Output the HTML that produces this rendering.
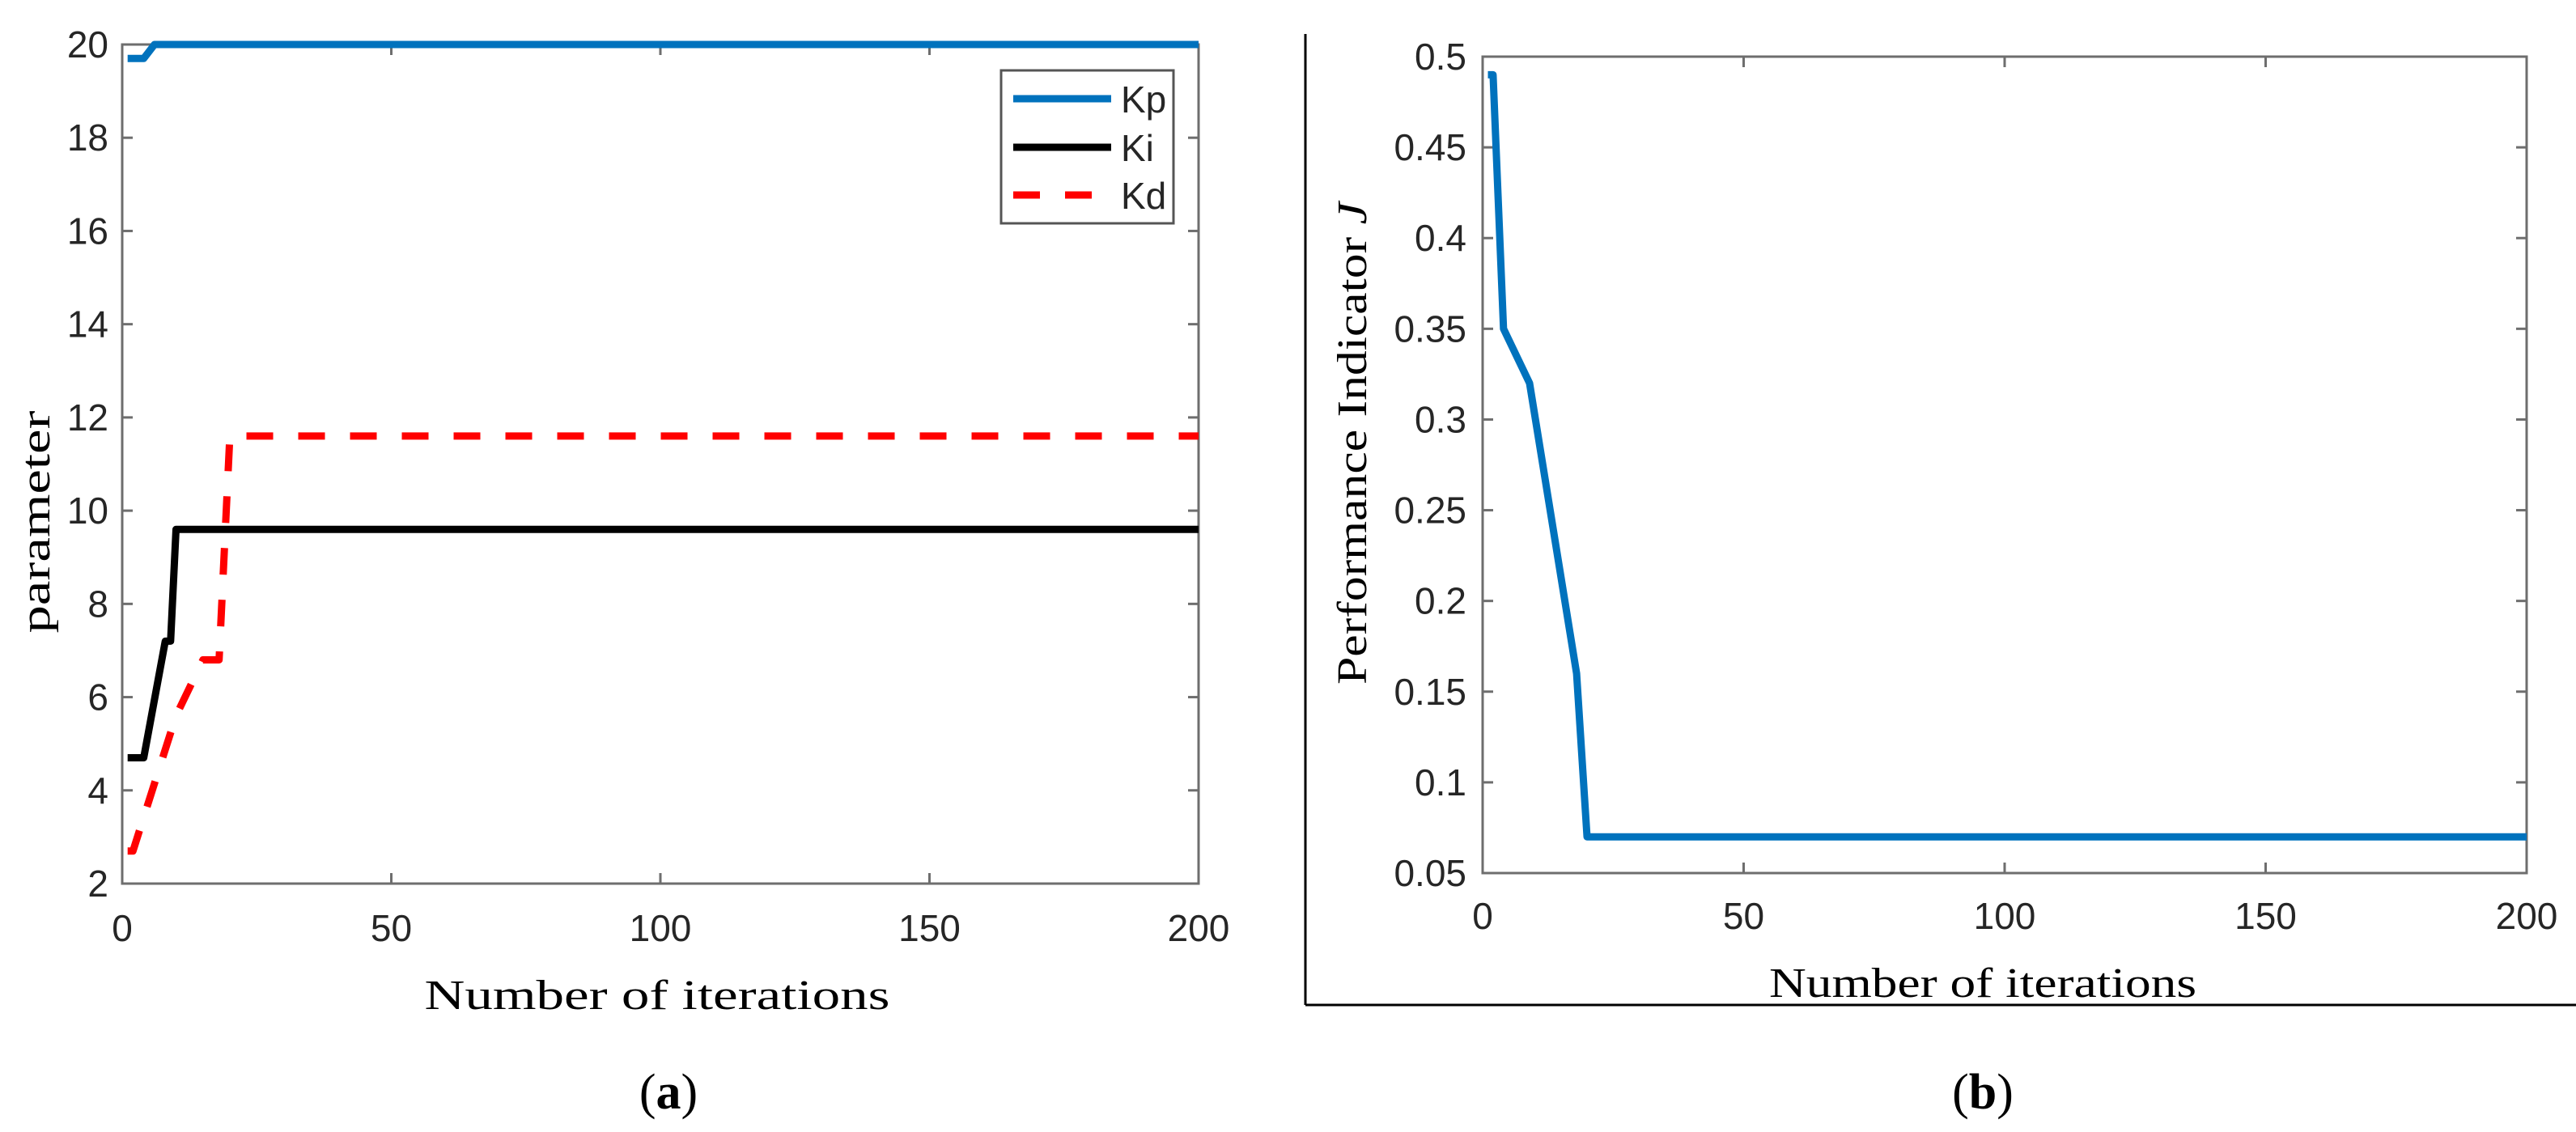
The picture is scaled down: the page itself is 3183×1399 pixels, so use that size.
<!DOCTYPE html>
<html><head><meta charset="utf-8"><style>
html,body{margin:0;padding:0;background:#fff;}
svg{display:block;}
.tick{font-family:"Liberation Sans",sans-serif;font-size:46px;fill:#262626;}
.lab{font-family:"Liberation Serif",serif;font-size:52px;fill:#000;}
</style></head><body>
<svg id="fig" width="3183" height="1399" viewBox="0 0 3183 1399" xmlns="http://www.w3.org/2000/svg">
<line x1="1613" y1="42" x2="1613" y2="1242" stroke="#000" stroke-width="3"/>
<line x1="1613" y1="1242" x2="3183" y2="1242" stroke="#000" stroke-width="3"/>
<g id="ga"></g>
<g id="gb"></g>
<text class="lab" x="812" y="1247" font-size="56" text-anchor="middle" textLength="575" lengthAdjust="spacingAndGlyphs">Number of iterations</text>
<text class="lab" font-size="64" transform="translate(61,645) rotate(-90)" text-anchor="middle" textLength="275" lengthAdjust="spacingAndGlyphs">parameter</text>
<text class="lab" x="2450" y="1232" text-anchor="middle" textLength="528" lengthAdjust="spacingAndGlyphs">Number of iterations</text>
<text class="lab" transform="translate(1688,548) rotate(-90)" text-anchor="middle" textLength="596" lengthAdjust="spacingAndGlyphs">Performance Indicator <tspan font-style="italic">J</tspan></text>
<text x="826" y="1370" text-anchor="middle" font-family="Liberation Serif,serif" font-size="62">(<tspan font-weight="bold">a</tspan>)</text>
<text x="2450" y="1370" text-anchor="middle" font-family="Liberation Serif,serif" font-size="62">(<tspan font-weight="bold">b</tspan>)</text>
</svg>
<script>
const NS="http://www.w3.org/2000/svg";
const xTicks=[0,50,100,150,200];
const yTicksA=[2,4,6,8,10,12,14,16,18,20];
const yTicksB=[0.05,0.1,0.15,0.2,0.25,0.3,0.35,0.4,0.45,0.5];
const yTickLabelsB=["0.05","0.1","0.15","0.2","0.25","0.3","0.35","0.4","0.45","0.5"];
const kpX=[1,4,6,200];
const kpY=[19.7,19.7,20,20];
const kiX=[1,4,8,9,10,200];
const kiY=[4.7,4.7,7.2,7.2,9.6,9.6];
const kdX=[1,2,10,15,18,20,200];
const kdY=[2.7,2.7,5.6,6.8,6.8,11.6,11.6];
const jX=[1,2,4,9,18,20,200];
const jY=[0.49,0.49,0.35,0.32,0.16,0.07,0.07];

function mk(tag,attrs,parent){const e=document.createElementNS(NS,tag);for(const k in attrs)e.setAttribute(k,attrs[k]);parent.appendChild(e);return e;}
function axes(g,L,R,T,B,xmin,xmax,ymin,ymax,yt,ytl,ylabX,xlabY,pfx){
  const sx=v=>L+(v-xmin)/(xmax-xmin)*(R-L);
  const sy=v=>B-(v-ymin)/(ymax-ymin)*(B-T);
  const box=mk('rect',{x:L,y:T,width:R-L,height:B-T,fill:'none',stroke:'#6e6e6e','stroke-width':3},g);
  
  
  xTicks.forEach(v=>{
    const x=sx(v);
    mk('line',{x1:x,y1:B,x2:x,y2:B-13,stroke:'#6e6e6e','stroke-width':3},g);
    mk('line',{x1:x,y1:T,x2:x,y2:T+13,stroke:'#6e6e6e','stroke-width':3},g);
    const t=mk('text',{x:x,y:xlabY,'text-anchor':'middle',class:'tick'},g);
    t.textContent=v;
    
    
  });
  yt.forEach((v,i)=>{
    const y=sy(v);
    mk('line',{x1:L,y1:y,x2:L+13,y2:y,stroke:'#6e6e6e','stroke-width':3},g);
    mk('line',{x1:R,y1:y,x2:R-13,y2:y,stroke:'#6e6e6e','stroke-width':3},g);
    const t=mk('text',{x:ylabX,y:y+16,'text-anchor':'end',class:'tick'},g);
    t.textContent=ytl?ytl[i]:v;
    
    
  });
  return {sx,sy};
}
function line(g,s,xs,ys,color,dash,name){
  const d=xs.map((x,i)=>(i?'L':'M')+s.sx(x).toFixed(1)+','+s.sy(ys[i]).toFixed(1)).join(' ');
  const p=mk('path',{d:d,fill:'none',stroke:color,'stroke-width':9,'stroke-linejoin':'round'},g);
  if(dash)p.setAttribute('stroke-dasharray',dash);
  
  
}
const ga=document.getElementById('ga');
const sa=axes(ga,151,1481,55,1092,0,200,2,20,yTicksA,null,134,1163,'a');
line(ga,sa,kdX,kdY,'#ff0000','33 31','series-kd');
line(ga,sa,kiX,kiY,'#000000',null,'series-ki');
line(ga,sa,kpX,kpY,'#0072bd',null,'series-kp');
// legend
const lg=mk('g',{},ga);


mk('rect',{x:1237,y:87,width:213,height:189,fill:'#fff',stroke:'#555','stroke-width':3},lg);
[['Kp','#0072bd',null,122],['Ki','#000',null,182],['Kd','#ff0000','33 31',241]].forEach(e=>{
  const l=mk('line',{x1:1252,y1:e[3],x2:1373,y2:e[3],stroke:e[1],'stroke-width':9},lg);
  if(e[2])l.setAttribute('stroke-dasharray',e[2]);
  const t=mk('text',{x:1385,y:e[3]+17,class:'tick',fill:'#000'},lg);
  t.textContent=e[0];
  
  
});
const gb=document.getElementById('gb');
const sb=axes(gb,1832,3122,70,1079,0,200,0.05,0.5,yTicksB,yTickLabelsB,1812,1148,'b');
line(gb,sb,jX,jY,'#0072bd',null,'series-j');
</script>
</body></html>
